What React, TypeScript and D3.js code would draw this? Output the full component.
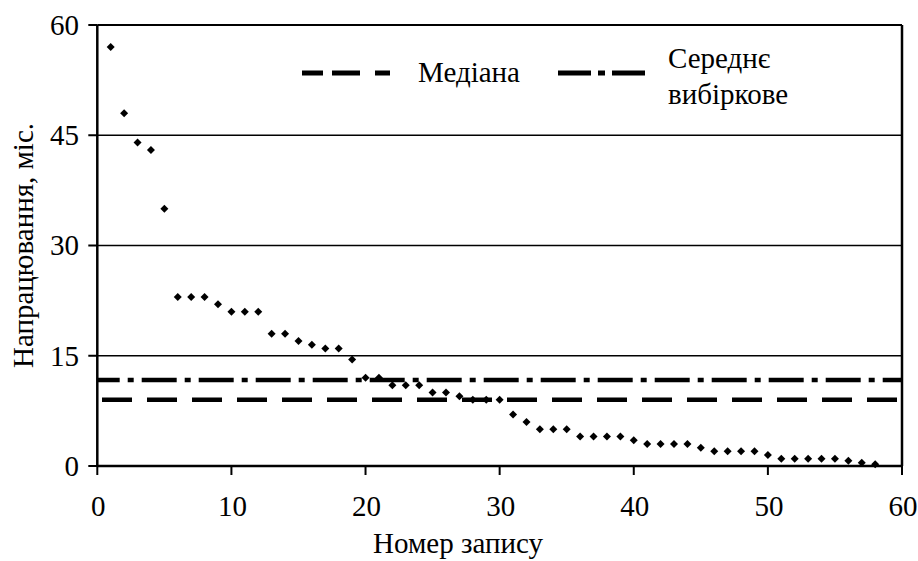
import React from 'react';
import * as d3 from 'd3';

// record number (1..58) and operating time in months
const recordNo = d3.range(1, 59);
const operatingTime = [
  57, 48, 44, 43, 35, 23, 23, 23, 22, 21,
  21, 21, 18, 18, 17, 16.5, 16, 16, 14.5, 12,
  12, 11, 11, 11, 10, 10, 9.5, 9, 9, 9,
  7, 6, 5, 5, 5, 4, 4, 4, 4, 3.5,
  3, 3, 3, 3, 2.5, 2, 2, 2, 2, 1.5,
  1, 1, 1, 1, 1, 0.7, 0.45, 0.25,
];
const medianValue = 9;
const meanValue = 11.7;

const xTicks = [0, 10, 20, 30, 40, 50, 60];
const yTicks = [0, 15, 30, 45, 60];
const gridValues = [15, 30, 45];

const txt = { fontFamily: "'Liberation Serif', 'DejaVu Serif', serif", fontSize: 29 };

const App = () => {
  const width = 918;
  const height = 561;
  const x = d3.scaleLinear().domain([0, 60]).range([97.3, 902]);
  const y = d3.scaleLinear().domain([0, 60]).range([466, 25]);

  const marker = d3.symbol().type(d3.symbolSquare).size(32)() as string;
  const points = recordNo.map((n, i) => ({ n, v: operatingTime[i] }));

  return (
    <svg
      width={width}
      height={height}
      style={{ position: 'absolute', left: 0, top: 0, background: '#fff' }}
    >
      <rect width={width} height={height} fill="#fff" />

      {/* grid lines */}
      {gridValues.map(v => (
        <line key={v} x1={x(0)} x2={x(60)} y1={y(v)} y2={y(v)} stroke="#000" strokeWidth={1.5} />
      ))}

      {/* frame */}
      <line x1={x(0)} x2={x(60)} y1={y(60)} y2={y(60)} stroke="#000" strokeWidth={2} />
      <line x1={x(60)} x2={x(60)} y1={y(60)} y2={y(0)} stroke="#000" strokeWidth={2.5} />

      {/* median and mean lines */}
      <line
        x1={x(0)} x2={x(60)} y1={y(medianValue)} y2={y(medianValue)}
        stroke="#000" strokeWidth={4.5} strokeDasharray="30 15" strokeDashoffset={40.3}
      />
      <line
        x1={x(0)} x2={x(60)} y1={y(meanValue)} y2={y(meanValue)}
        stroke="#000" strokeWidth={4.5} strokeDasharray="35 8 6 8" strokeDashoffset={12.6}
      />

      {/* points */}
      {points.map(p => (
        <path
          key={p.n}
          d={marker}
          transform={`translate(${x(p.n)},${y(p.v)}) rotate(45)`}
          fill="#000"
        />
      ))}

      {/* axes */}
      <line x1={x(0)} x2={x(0)} y1={y(60)} y2={y(0) + 1} stroke="#000" strokeWidth={2.5} />
      <line x1={x(0)} x2={x(60) + 1} y1={y(0)} y2={y(0)} stroke="#000" strokeWidth={2.5} />

      {yTicks.map(t => (
        <g key={t}>
          <line x1={x(0) - 9} x2={x(0)} y1={y(t)} y2={y(t)} stroke="#000" strokeWidth={2} />
          <text x={79} y={y(t)} dy="0.34em" textAnchor="end" style={txt} fill="#000">
            {t}
          </text>
        </g>
      ))}
      {xTicks.map(t => (
        <g key={t}>
          <line x1={x(t)} x2={x(t)} y1={y(0)} y2={y(0) + 9} stroke="#000" strokeWidth={2} />
          <text x={x(t) + 1} y={516} textAnchor="middle" style={txt} fill="#000">
            {t}
          </text>
        </g>
      ))}

      {/* axis titles */}
      <text x={458} y={553} textAnchor="middle" style={txt} fill="#000">
        Номер запису
      </text>
      <text
        transform={`translate(33,${(y(0) + y(60)) / 2}) rotate(-90)`}
        textAnchor="middle"
        style={txt}
        fill="#000"
      >
        Напрацювання, міс.
      </text>

      {/* legend */}
      <line x1={302} x2={390} y1={73} y2={73} stroke="#000" strokeWidth={5} strokeDasharray="21 9 28 15 15" />
      <text x={418} y={82} style={txt} fill="#000">Медіана</text>
      <line x1={558} x2={647} y1={73} y2={73} stroke="#000" strokeWidth={5} strokeDasharray="33 7 7 7" />
      <text x={668} y={68} style={txt} fill="#000">Середнє</text>
      <text x={668} y={104} style={txt} fill="#000">вибіркове</text>
    </svg>
  );
};

export default App;
